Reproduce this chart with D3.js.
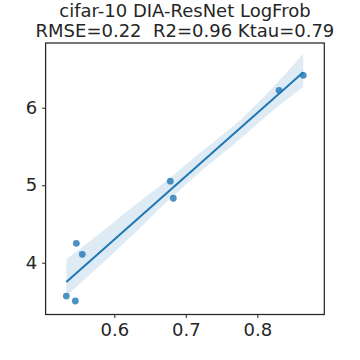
<!DOCTYPE html>
<html>
<head>
<meta charset="utf-8">
<script src="https://cdn.jsdelivr.net/npm/d3@7"></script>
<style>
body { margin: 0; background: #fff; }
text { font-family: "DejaVu Sans", sans-serif; fill: #262626; }
</style>
</head>
<body>
<div class="chart"></div>
<script>
var titleLines = ["cifar-10 DIA-ResNet LogFrob", "RMSE=0.22\u00a0 R2=0.96 Ktau=0.79"];

// scatter points
var xValues = [0.8643, 0.8304, 0.6783, 0.6825, 0.5469, 0.5552, 0.5329, 0.5455];
var yValues = [6.418, 6.224, 5.052, 4.832, 4.250, 4.108, 3.570, 3.506];

// confidence band (bootstrap in the original)
var bandX    = [0.5329, 0.58, 0.622, 0.678, 0.72, 0.776, 0.82, 0.8643];
var bandLow  = [3.574, 3.965, 4.325, 4.827, 5.172, 5.597, 5.948, 6.272];
var bandHigh = [4.044, 4.381, 4.694, 5.097, 5.419, 5.842, 6.245, 6.697];

var xTicks = [0.6, 0.7, 0.8];
var yTicks = [4, 5, 6];

function drawChart(){
  var width = 360, height = 360;
  var left = 45.6, right = 324.3, top = 43, bottom = 314.5;

  var svg = d3.select(".chart").append("svg")
      .attr("width", width)
      .attr("height", height);

  var x = d3.scaleLinear().domain([0.5039, 0.8937]).range([left, right]);
  var y = d3.scaleLinear().domain([3.332, 6.835]).range([bottom, top]);

  // least squares fit
  var n = xValues.length;
  var mx = d3.mean(xValues), my = d3.mean(yValues);
  var sxy = 0, sxx = 0;
  for (var i = 0; i < n; i++) {
    sxy += (xValues[i] - mx) * (yValues[i] - my);
    sxx += (xValues[i] - mx) * (xValues[i] - mx);
  }
  var slope = sxy / sxx, icept = my - slope * mx;
  var x0 = d3.min(xValues), x1 = d3.max(xValues);

  var band = bandX.map(function(v, i){ return {x: v, lo: bandLow[i], hi: bandHigh[i]}; });
  svg.append("path")
     .datum(band)
     .attr("d", d3.area()
        .x(function(d){ return x(d.x); })
        .y0(function(d){ return y(d.lo); })
        .y1(function(d){ return y(d.hi); })
        .curve(d3.curveMonotoneX))
     .style("fill", "#1f77b4")
     .style("fill-opacity", 0.15);

  svg.append("line")
     .attr("x1", x(x0)).attr("y1", y(icept + slope * x0))
     .attr("x2", x(x1)).attr("y2", y(icept + slope * x1))
     .style("stroke", "#1f77b4")
     .style("stroke-width", 2);

  svg.append("g").selectAll("circle")
     .data(xValues)
     .enter()
     .append("circle")
     .attr("cx", function(d){ return x(d); })
     .attr("cy", function(d, i){ return y(yValues[i]); })
     .attr("r", 3.4)
     .style("fill", "#1f77b4")
     .style("fill-opacity", 0.8);

  // axes
  var xAxis = svg.append("g")
     .attr("transform", "translate(0," + bottom + ")")
     .call(d3.axisBottom(x).tickValues(xTicks).tickSize(3.5).tickPadding(5).tickFormat(d3.format(".1f")));
  var yAxis = svg.append("g")
     .attr("transform", "translate(" + left + ",0)")
     .call(d3.axisLeft(y).tickValues(yTicks).tickSize(3.5).tickPadding(5).tickFormat(d3.format("d")));
  [xAxis, yAxis].forEach(function(a){
    a.select(".domain").remove();
    a.selectAll("line").style("stroke", "#262626").style("stroke-width", 1);
    a.selectAll("text").style("font-size", "18px").style("font-family", "DejaVu Sans").style("fill", "#262626");
  });

  svg.append("rect")
     .attr("x", left).attr("y", top)
     .attr("width", right - left).attr("height", bottom - top)
     .style("fill", "none")
     .style("stroke", "#262626")
     .style("stroke-width", 1.25);

  svg.append("g").selectAll("text")
     .data(titleLines)
     .enter()
     .append("text")
     .attr("x", (left + right) / 2)
     .attr("y", function(d, i){ return 16.7 + i * 20; })
     .attr("text-anchor", "middle")
     .style("font-size", "18px")
     .text(function(d){ return d; });
}

drawChart();
</script>
</body>
</html>
